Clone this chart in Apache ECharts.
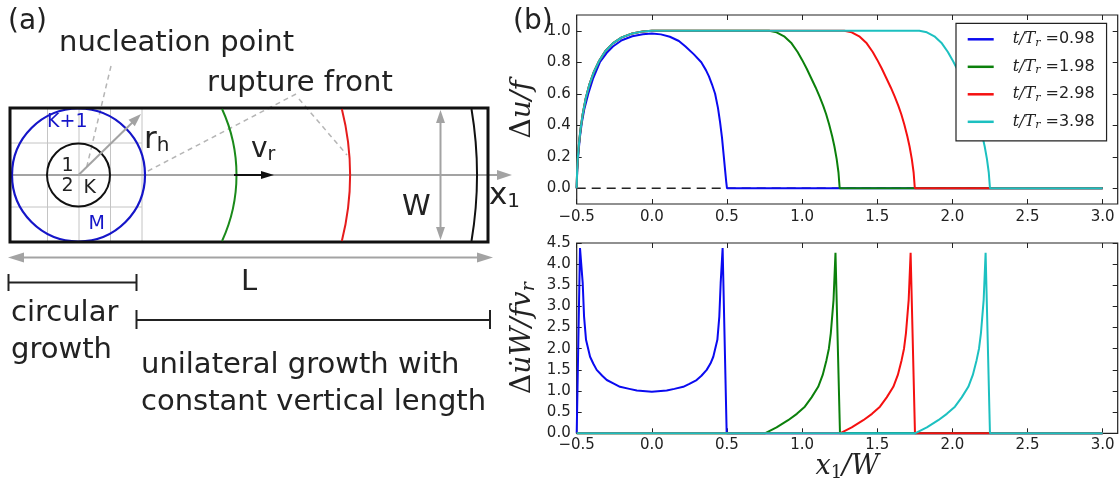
<!DOCTYPE html>
<html>
<head>
<meta charset="utf-8">
<script src="https://cdn.jsdelivr.net/npm/echarts@6/dist/echarts.min.js"></script>
<style>
  html, body { margin: 0; padding: 0; background: #fff; }
  #chart { width: 1120px; height: 489px; }
</style>
</head>
<body>
<div id="chart"></div>
<script>
// Snapshot times t/T_r, one curve each
const timeLabels = ['0.98', '1.98', '2.98', '3.98'];
const lineColors = ['#0a0af0', '#0b800b', '#f51010', '#1cc0c0'];

// Tick positions
const xTicks = [-0.5, 0, 0.5, 1.0, 1.5, 2.0, 2.5, 3.0];
const slipTicks = [0, 0.2, 0.4, 0.6, 0.8, 1.0];
const rateTicks = [0, 0.5, 1.0, 1.5, 2.0, 2.5, 3.0, 3.5, 4.0, 4.5];

// Slip  Δu/f  versus x1/W
const slip098 = [[-0.5,0],[-0.497,0.10],[-0.493,0.17],[-0.487,0.24],[-0.478,0.33],[-0.467,0.41],[-0.45,0.50],[-0.423,0.60],[-0.39,0.70],[-0.346,0.80],[-0.30,0.86],[-0.259,0.90],[-0.2,0.94],[-0.13,0.965],[-0.06,0.978],[0,0.982],[0.06,0.977],[0.12,0.962],[0.18,0.935],[0.224,0.90],[0.28,0.85],[0.329,0.80],[0.36,0.75],[0.38,0.71],[0.4,0.66],[0.421,0.60],[0.44,0.51],[0.454,0.42],[0.467,0.32],[0.477,0.22],[0.487,0.12],[0.495,0.04],[0.5,0],[3.0,0]];
const slip198 = [[-0.5,0],[-0.497,0.12],[-0.492,0.2],[-0.485,0.28],[-0.475,0.37],[-0.46,0.47],[-0.44,0.57],[-0.415,0.66],[-0.385,0.74],[-0.35,0.81],[-0.31,0.87],[-0.26,0.92],[-0.2,0.958],[-0.13,0.983],[-0.06,0.996],[0,1.0],[0.78,1.0],[0.83,0.99],[0.88,0.965],[0.93,0.92],[0.97,0.865],[1.0,0.815],[1.03,0.76],[1.06,0.70],[1.09,0.64],[1.115,0.585],[1.14,0.525],[1.16,0.47],[1.18,0.405],[1.2,0.33],[1.215,0.265],[1.23,0.185],[1.242,0.1],[1.25,0],[3.0,0]];
const slip298 = [[-0.5,0],[-0.497,0.12],[-0.492,0.2],[-0.485,0.28],[-0.475,0.37],[-0.46,0.47],[-0.44,0.57],[-0.415,0.66],[-0.385,0.74],[-0.35,0.81],[-0.31,0.87],[-0.26,0.92],[-0.2,0.958],[-0.13,0.983],[-0.06,0.996],[0,1.0],[1.28,1.0],[1.33,0.99],[1.38,0.965],[1.43,0.92],[1.47,0.865],[1.5,0.815],[1.53,0.76],[1.56,0.70],[1.59,0.64],[1.615,0.585],[1.64,0.525],[1.66,0.47],[1.68,0.405],[1.7,0.33],[1.715,0.265],[1.73,0.185],[1.742,0.1],[1.75,0],[3.0,0]];
const slip398 = [[-0.5,0],[-0.497,0.12],[-0.492,0.2],[-0.485,0.28],[-0.475,0.37],[-0.46,0.47],[-0.44,0.57],[-0.415,0.66],[-0.385,0.74],[-0.35,0.81],[-0.31,0.87],[-0.26,0.92],[-0.2,0.958],[-0.13,0.983],[-0.06,0.996],[0,1.0],[1.78,1.0],[1.83,0.99],[1.88,0.965],[1.93,0.92],[1.97,0.865],[2.0,0.815],[2.03,0.76],[2.06,0.70],[2.09,0.64],[2.115,0.585],[2.14,0.525],[2.16,0.47],[2.18,0.405],[2.2,0.33],[2.215,0.265],[2.23,0.185],[2.242,0.1],[2.25,0],[3.0,0]];
const slipRef = [[-0.5,0],[3.0,0]];

// Slip rate  Δu̇W/(f v_r)  versus x1/W
const rate098 = [[-0.5,0],[-0.478,4.38],[-0.46,3.55],[-0.451,2.76],[-0.438,2.21],[-0.411,1.81],[-0.39,1.65],[-0.367,1.5],[-0.33,1.36],[-0.3,1.26],[-0.25,1.17],[-0.212,1.1],[-0.15,1.05],[-0.1,1.01],[0,0.985],[0.099,1.01],[0.15,1.05],[0.209,1.1],[0.25,1.17],[0.298,1.26],[0.33,1.36],[0.365,1.5],[0.39,1.65],[0.409,1.81],[0.436,2.21],[0.449,2.76],[0.458,3.55],[0.471,4.38],[0.498,0],[3.0,0]];
const rate198 = [[-0.5,0],[0.752,0],[0.83,0.14],[0.907,0.31],[0.965,0.46],[1.018,0.63],[1.063,0.85],[1.107,1.10],[1.137,1.38],[1.162,1.73],[1.178,2.0],[1.191,2.37],[1.209,3.15],[1.222,4.27],[1.252,0],[3.0,0]];
const rate298 = [[-0.5,0],[1.252,0],[1.33,0.14],[1.407,0.31],[1.465,0.46],[1.518,0.63],[1.563,0.85],[1.607,1.10],[1.637,1.38],[1.662,1.73],[1.678,2.0],[1.691,2.37],[1.709,3.15],[1.722,4.27],[1.751,0],[3.0,0]];
const rate398 = [[-0.5,0],[1.751,0],[1.83,0.14],[1.906,0.31],[1.963,0.46],[2.017,0.63],[2.062,0.85],[2.106,1.10],[2.136,1.38],[2.161,1.73],[2.177,2.0],[2.19,2.37],[2.208,3.15],[2.221,4.27],[2.25,0],[3.0,0]];

const slipData = [slip098, slip198, slip298, slip398];
const rateData = [rate098, rate198, rate298, rate398];

const SANS = 'DejaVu Sans';
const SERIF = 'DejaVu Serif';
const INK = '#222';
const GRAY = '#a3a3a3';

const tickFmt = v => (v < 0 ? '\u2212' : '') + Math.abs(v).toFixed(1);

// ---------- panel (a): schematic of the fault ----------
function seg(x1, y1, x2, y2, color, width, dash) {
  return { type: 'line', silent: true, shape: { x1, y1, x2, y2 },
    style: { stroke: color, lineWidth: width, lineDash: dash || null, fill: 'none' } };
}
function head(x1, y1, x2, y2, len, wid, color) {
  const dx = x2 - x1, dy = y2 - y1, d = Math.hypot(dx, dy);
  const ux = dx / d, uy = dy / d;
  const bx = x2 - ux * len, by = y2 - uy * len;
  return { type: 'polygon', silent: true,
    shape: { points: [[x2, y2], [bx - uy * wid / 2, by + ux * wid / 2], [bx + uy * wid / 2, by - ux * wid / 2]] },
    style: { fill: color } };
}
function arrow(x1, y1, x2, y2, color, width, len, wid, both) {
  const dx = x2 - x1, dy = y2 - y1, d = Math.hypot(dx, dy);
  const ux = dx / d, uy = dy / d;
  const sx = both ? x1 + ux * (len - 2) : x1, sy = both ? y1 + uy * (len - 2) : y1;
  const out = [seg(sx, sy, x2 - ux * (len - 2), y2 - uy * (len - 2), color, width),
               head(x1, y1, x2, y2, len, wid, color)];
  if (both) out.push(head(x2, y2, x1, y1, len, wid, color));
  return out;
}
function label(text, x, y, size, color, extra) {
  return { type: 'text', silent: true,
    style: Object.assign({ text, x, y, fontFamily: SANS, fontSize: size, fill: color || INK,
      textAlign: 'left', verticalAlign: 'middle', textVerticalAlign: 'middle' }, extra || {}) };
}
function arcAt(cx, cy, r, half, color) {
  const a = Math.asin(half / r);
  return { type: 'arc', silent: true, shape: { cx, cy, r, startAngle: -a, endAngle: a, clockwise: true },
    style: { stroke: color, lineWidth: 2, fill: 'none' } };
}

const cx0 = 78.5, cy0 = 175;            // nucleation point
const box = { x: 10, y: 108, width: 478, height: 134 };
const sketch = [];

// cell grid around the nucleation point
[47.5, 79, 110.5, 142].forEach(x => sketch.push(seg(x, box.y, x, box.y + box.height, '#c4c4c4', 1)));
[143, 175, 207].forEach(y => sketch.push(seg(box.x, y, 142, y, '#c4c4c4', 1)));

// leader lines for the annotations
sketch.push(seg(111, 66, 86, 170, '#b5b5b5', 1.5, [5, 4]));
sketch.push(seg(296, 94, 146, 172, '#b5b5b5', 1.5, [5, 4]));
sketch.push(seg(299, 99, 347, 155, '#b5b5b5', 1.5, [5, 4]));

// x1 axis through the nucleation point
sketch.push(...arrow(box.x, cy0, 512, cy0, GRAY, 2, 15, 10));

// nucleation patch circles
sketch.push({ type: 'circle', silent: true, shape: { cx: cx0, cy: cy0, r: 66.5 },
  style: { fill: 'none', stroke: '#1515c8', lineWidth: 2.2 } });
sketch.push({ type: 'circle', silent: true, shape: { cx: cx0, cy: cy0, r: 31.5 },
  style: { fill: 'none', stroke: '#111', lineWidth: 2 } });

// fault boundary
sketch.push({ type: 'rect', silent: true, shape: box,
  style: { fill: 'none', stroke: '#111', lineWidth: 3 } });

// rupture fronts (arcs about the nucleation point)
sketch.push(arcAt(cx0, cy0, 158, 66, '#1a8a1a'));
sketch.push(arcAt(cx0, cy0, 271.5, 66, '#e51c1c'));
sketch.push(arcAt(cx0, cy0, 398.5, 66, '#111'));

// r_h, v_r, W and L arrows
sketch.push(...arrow(cx0, cy0, 141, 114, GRAY, 2, 13, 9));
sketch.push(...arrow(234, cy0, 274, cy0, '#111', 2, 13, 8));
sketch.push(...arrow(440.5, 110, 440.5, 240, GRAY, 2, 13, 9, true));
sketch.push(...arrow(8, 257.5, 493, 257.5, GRAY, 2, 16, 10, true));

// growth-stage scale bars
sketch.push(seg(8.5, 282.5, 136.5, 282.5, '#222', 2));
sketch.push(seg(8.5, 274, 8.5, 291, '#222', 2));
sketch.push(seg(136.5, 274, 136.5, 291, '#222', 2));
sketch.push(seg(136.5, 320, 490, 320, '#222', 2));
sketch.push(seg(136.5, 310, 136.5, 329, '#222', 2));
sketch.push(seg(490, 310, 490, 329, '#222', 2));

// panel text
sketch.push(label('(a)', 8, 22, 28));
sketch.push(label('(b)', 513, 22, 28));
sketch.push(label('nucleation point', 59, 43.5, 29));
sketch.push(label('rupture front', 207, 83, 29));
sketch.push(label('K+1', 47, 122, 19, '#1515c8'));
sketch.push(label('1', 61.5, 166.5, 19));
sketch.push(label('2', 61.5, 186.5, 19));
sketch.push(label('K', 83.5, 188, 19));
sketch.push(label('M', 88.5, 224, 19, '#1515c8'));
sketch.push(label('W', 402, 207.5, 29));
sketch.push(label('L', 241, 282.5, 29));
sketch.push(label('{m|r}{s|h}', 144, 140, 31, INK, { rich: {
  m: { fontFamily: SANS, fontSize: 31, lineHeight: 32, fill: INK },
  s: { fontFamily: SANS, fontSize: 20, lineHeight: 14, verticalAlign: 'bottom', fill: INK } } }));
sketch.push(label('{m|v}{s|r}', 251, 150, 28, INK, { rich: {
  m: { fontFamily: SANS, fontSize: 28, lineHeight: 30, fill: INK },
  s: { fontFamily: SANS, fontSize: 19, lineHeight: 13, verticalAlign: 'bottom', fill: INK } } }));
sketch.push(label('{m|x}{s|1}', 489, 196, 31, INK, { rich: {
  m: { fontFamily: SANS, fontSize: 31, lineHeight: 32, fill: INK },
  s: { fontFamily: SANS, fontSize: 20, lineHeight: 14, verticalAlign: 'bottom', fill: INK } } }));
sketch.push(label('circular', 11, 313.5, 29));
sketch.push(label('growth', 11, 350, 29));
sketch.push(label('unilateral growth with', 141, 365, 29));
sketch.push(label('constant vertical length', 141, 402, 29));

// ---------- panel (b): profiles ----------
const gridBox = [
  { left: 576.7, top: 15, width: 541, height: 189 },
  { left: 576.7, top: 243, width: 541, height: 190.3 }
];
const tickStyle = ticks => ({ show: true, inside: true, length: 5, customValues: ticks,
  lineStyle: { color: INK, width: 1 } });

function xAxisPair(gi, margin, nameCfg) {
  const bottom = Object.assign({
    gridIndex: gi, type: 'value', min: -0.5, max: 3.1, position: 'bottom',
    axisLine: { show: false, onZero: false }, splitLine: { show: false },
    axisTick: tickStyle(xTicks),
    axisLabel: { show: true, customValues: xTicks, formatter: tickFmt, margin,
      fontFamily: SANS, fontSize: 15, color: INK }
  }, nameCfg || {});
  const top = {
    gridIndex: gi, type: 'value', min: -0.5, max: 3.1, position: 'top',
    axisLine: { show: false, onZero: false }, splitLine: { show: false },
    axisTick: tickStyle(xTicks), axisLabel: { show: false }
  };
  return [bottom, top];
}
function yAxisPair(gi, min, max, ticks, nameCfg) {
  const left = Object.assign({
    gridIndex: gi, type: 'value', min, max, position: 'left',
    axisLine: { show: false, onZero: false }, splitLine: { show: false },
    axisTick: tickStyle(ticks),
    axisLabel: { show: true, customValues: ticks, formatter: tickFmt, margin: 6,
      fontFamily: SANS, fontSize: 15, color: INK }
  }, nameCfg);
  const right = {
    gridIndex: gi, type: 'value', min, max, position: 'right',
    axisLine: { show: false, onZero: false }, splitLine: { show: false },
    axisTick: tickStyle(ticks), axisLabel: { show: false }
  };
  return [left, right];
}

const mathRich = {
  d: { fontFamily: SERIF, fontSize: 28, color: INK, lineHeight: 32 },
  i: { fontFamily: SERIF, fontStyle: 'italic', fontSize: 28, color: INK, lineHeight: 32 },
  s: { fontFamily: SERIF, fontStyle: 'italic', fontSize: 19, color: INK, lineHeight: 17, verticalAlign: 'bottom' }
};
const xRich = {
  i: { fontFamily: SERIF, fontStyle: 'italic', fontSize: 27, color: INK, lineHeight: 30 },
  u: { fontFamily: SERIF, fontSize: 18, color: INK, lineHeight: 16, verticalAlign: 'bottom' }
};

const xAxes = [
  ...xAxisPair(0, 6),
  ...xAxisPair(1, 4, {
    name: '{i|x}{u|1}{i|/W}', nameLocation: 'middle', nameGap: 19,
    nameTextStyle: { rich: xRich }
  })
];
const yAxes = [
  ...yAxisPair(0, -0.1, 1.1, slipTicks, {
    name: '{d|Δ}{i|u/f}', nameLocation: 'middle', nameRotate: 90, nameGap: 38,
    nameTextStyle: { rich: mathRich }
  }),
  ...yAxisPair(1, 0, 4.5, rateTicks, {
    name: '{d|Δ}{i|u\u0307W/fv}{s|r}', nameLocation: 'middle', nameRotate: 90, nameGap: 38,
    nameTextStyle: { rich: mathRich }
  })
];

const series = [{
  name: 'ref', type: 'line', xAxisIndex: 0, yAxisIndex: 0, data: slipRef,
  showSymbol: false, silent: true, clip: false,
  lineStyle: { color: INK, width: 1.3, type: [9, 6] }
}];
timeLabels.forEach((t, k) => {
  series.push({
    name: t, type: 'line', xAxisIndex: 0, yAxisIndex: 0, data: slipData[k],
    showSymbol: false, clip: false, color: lineColors[k],
    lineStyle: { color: lineColors[k], width: 2 }
  });
});
timeLabels.forEach((t, k) => {
  series.push({
    name: t, type: 'line', xAxisIndex: 2, yAxisIndex: 2, data: rateData[k],
    showSymbol: false, clip: false, color: lineColors[k],
    lineStyle: { color: lineColors[k], width: 2 }
  });
});

const chart = echarts.init(document.getElementById('chart'), null, { renderer: 'canvas' });
chart.setOption({
  animation: false,
  backgroundColor: '#fff',
  grid: gridBox.map(g => Object.assign({ show: true, borderColor: INK, borderWidth: 1.2,
    backgroundColor: 'transparent', containLabel: false }, g)),
  xAxis: xAxes,
  yAxis: yAxes,
  legend: {
    data: timeLabels, orient: 'vertical', left: 956, top: 23.3,
    selectedMode: false, icon: 'rect', itemWidth: 26, itemHeight: 2.5, itemGap: 9.5,
    padding: [7, 12, 10, 11.7],
    backgroundColor: '#fff', borderColor: INK, borderWidth: 1.2, borderRadius: 0,
    formatter: n => '{it|t/T}{sub|r}{eq| =}{num|' + n + '}',
    textStyle: {
      padding: [0, 0, 0, 14], lineHeight: 18, color: INK,
      rich: {
        it: { fontFamily: SERIF, fontStyle: 'italic', fontSize: 16, lineHeight: 18, color: INK },
        sub: { fontFamily: SERIF, fontStyle: 'italic', fontSize: 11, lineHeight: 12, verticalAlign: 'bottom', color: INK },
        eq: { fontFamily: SERIF, fontSize: 16, lineHeight: 18, color: INK },
        num: { fontFamily: SANS, fontSize: 16, lineHeight: 18, color: INK }
      }
    }
  },
  graphic: { elements: sketch },
  series
});
</script>
</body>
</html>
